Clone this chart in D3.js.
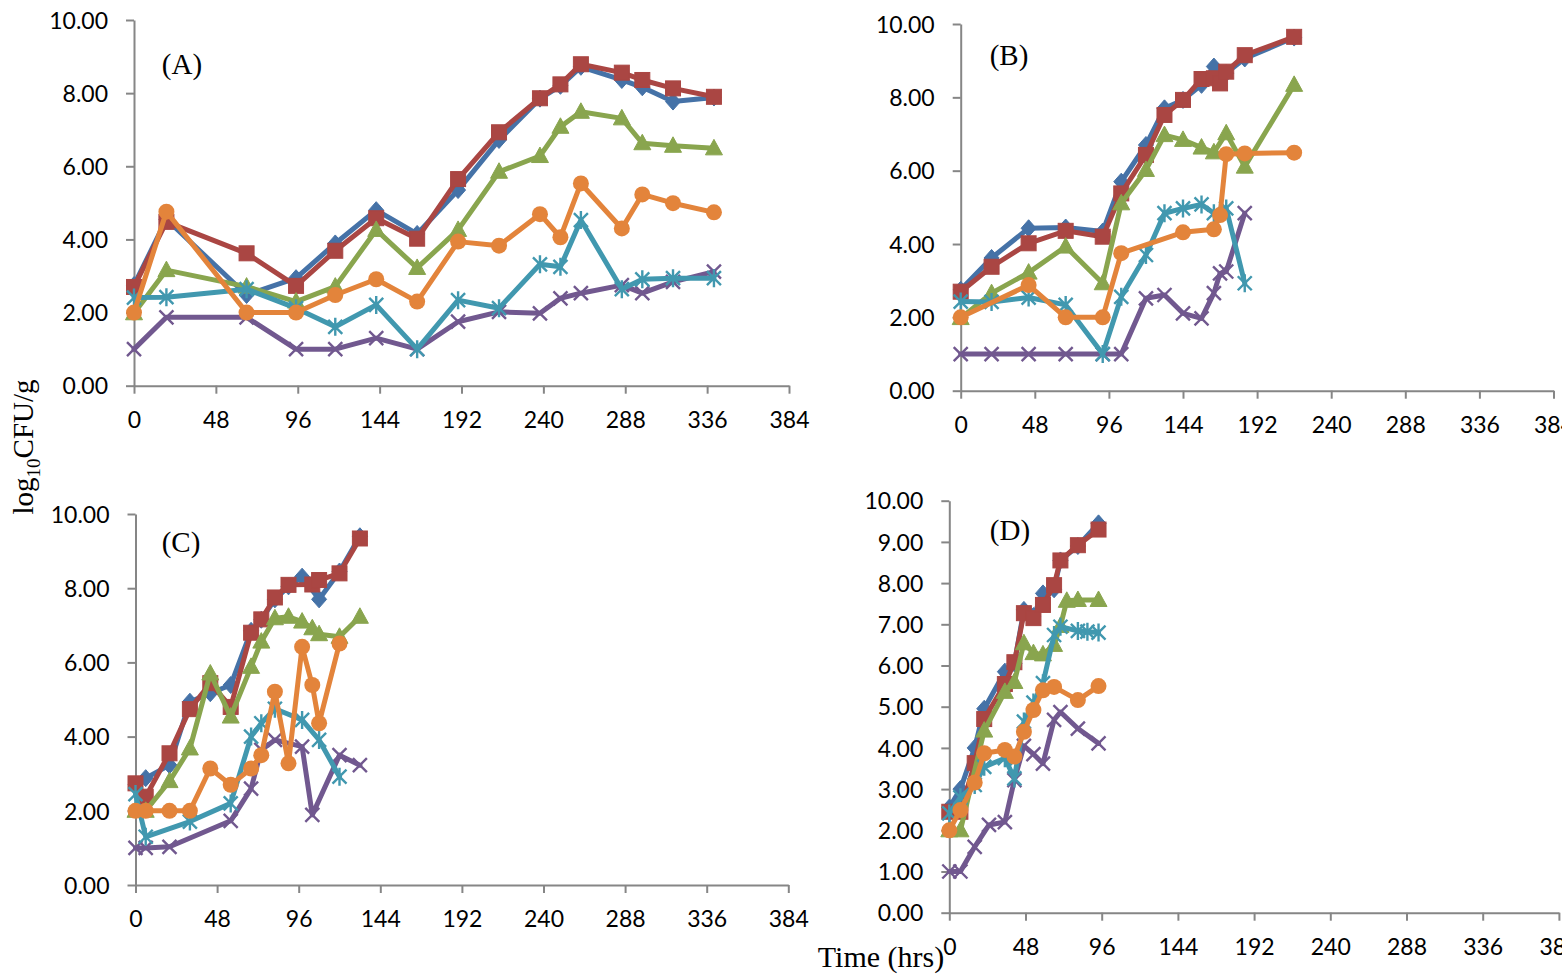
<!DOCTYPE html>
<html><head><meta charset="utf-8">
<script src="https://cdn.jsdelivr.net/npm/d3@7"></script>
<style>
html,body{margin:0;padding:0;background:#fff;overflow:hidden;}
svg{display:block;}
</style></head><body>
<svg id="chart" width="1562" height="974"></svg>
<script>
// ---------- DATA ----------
const hourTicks = [0, 48, 96, 144, 192, 240, 288, 336, 384];
const yTicksABC = [0, 2, 4, 6, 8, 10];
const yTicksD = [0, 1, 2, 3, 4, 5, 6, 7, 8, 9, 10];
const panelLabels = ["(A)", "(B)", "(C)", "(D)"];
const seriesColors = ["#4572A7", "#AA4643", "#89A54E", "#71588F", "#4198AF", "#E3843B"];
const seriesMarkers = ["diamond", "square", "triangle", "x", "asterisk", "circle"];

// Panel A
const timesA = [0, 19, 66, 95, 118, 142, 166, 190, 214, 238, 250, 262, 286, 298, 316, 340];
const blueA   = [2.75, 4.55, 2.48, 2.94, 3.89, 4.8, 4.15, 5.35, 6.72, 7.85, 8.2, 8.72, 8.36, 8.16, 7.77, 7.88];
const redA    = [2.7, 4.48, 3.62, 2.73, 3.69, 4.58, 4.02, 5.65, 6.93, 7.86, 8.24, 8.79, 8.56, 8.36, 8.13, 7.9];
const greenA  = [1.98, 3.16, 2.71, 2.3, 2.71, 4.26, 3.22, 4.26, 5.85, 6.28, 7.08, 7.49, 7.31, 6.63, 6.56, 6.49];
const purpleA = [1.0, 1.87, 1.87, 1.0, 1.0, 1.3, 1.0, 1.75, 2.02, 1.98, 2.39, 2.53, 2.75, 2.53, 2.84, 3.12];
const tealA   = [2.41, 2.42, 2.64, 2.12, 1.61, 2.21, 1.0, 2.34, 2.12, 3.32, 3.25, 4.53, 2.64, 2.91, 2.94, 2.94];
const orangeA = [2.0, 4.76, 2.0, 2.0, 2.48, 2.91, 2.3, 3.94, 3.83, 4.69, 4.06, 5.53, 4.3, 5.23, 4.99, 4.74];

// Panel B
const timesB = [0, 20, 44, 68, 92, 104, 120, 132, 144, 156, 164, 168, 172, 184, 216];
const blueB   = [2.75, 3.62, 4.43, 4.45, 4.34, 5.7, 6.7, 7.7, 7.93, 8.34, 8.84, null, 8.66, 9.06, 9.63];
const redB    = [2.7, 3.38, 4.02, 4.36, 4.2, 5.38, 6.43, 7.52, 7.93, 8.5, 8.52, 8.38, 8.7, 9.15, 9.65];
const greenB  = [1.98, 2.66, 3.22, 3.93, 2.93, 5.11, 6.02, 6.97, 6.84, 6.63, 6.5, null, 7.02, 6.11, 8.34];
const purpleB = [1, 1, 1, 1, 1, 1, 2.52, 2.61, 2.11, 1.97, 2.66, 3.2, 3.25, 4.84, null];
const tealB   = [2.43, 2.42, 2.54, 2.34, 1.0, 2.56, 3.7, 4.84, 4.97, 5.08, 4.84, null, 4.97, 2.93, null];
const orangeB = [2.0, null, 2.88, 2.0, 2.0, 3.75, null, null, 4.32, null, 4.4, 4.79, 6.45, 6.47, 6.49];

// Panel C
const timesC = [0, 6, 20, 32, 44, 56, 68, 74, 82, 90, 98, 104, 108, 120, 132];
const blueC   = [2.7, 2.88, 3.23, 4.94, 5.17, 5.39, 6.85, 7.15, 7.7, 8.05, 8.31, null, 7.7, 8.45, 9.4];
const redC    = [2.74, 2.38, 3.55, 4.74, 5.44, 4.8, 6.8, 7.16, 7.75, 8.09, null, 8.1, 8.22, 8.4, 9.34];
const greenC  = [2.0, 2.0, 2.8, 3.68, 5.7, 4.54, 5.88, 6.56, 7.19, 7.23, 7.1, 6.92, 6.76, 6.69, 7.23];
const purpleC = [1.0, 1.0, 1.03, null, null, 1.73, 2.6, 3.64, 3.91, null, 3.73, 1.89, null, 3.5, 3.23];
const tealC   = [2.45, 1.3, null, 1.71, null, 2.2, 4.0, 4.36, 4.75, null, 4.45, null, 3.91, 2.92, null];
const orangeC = [2.0, 2.0, 2.0, 2.0, 3.14, 2.7, 3.14, 3.5, 5.21, 3.28, 6.42, 5.39, 4.36, 6.51, null];

// Panel D
const timesD = [0, 7, 16, 22, 25, 35, 41, 47, 53, 59, 66, 70, 74, 81, 87, 94];
const blueD   = [2.55, 3.0, 4.0, 4.95, null, 5.85, 6.05, 7.35, 7.2, 7.75, 7.85, 8.55, null, 8.9, null, 9.45];
const redD    = [2.45, 2.45, 3.63, 4.7, null, 5.55, 6.08, 7.27, 7.15, 7.47, 7.95, 8.55, null, 8.92, null, 9.3];
const greenD  = [2.0, 2.0, null, 4.42, null, 5.36, 5.6, 6.54, 6.3, 6.27, 6.5, 6.96, 7.57, 7.59, null, 7.59];
const purpleD = [1.0, 1.0, 1.6, null, 2.13, 2.2, 3.22, 4.05, 3.85, 3.62, 4.68, 4.87, null, 4.47, null, 4.11];
const tealD   = [2.41, 2.8, 3.1, 3.54, null, 3.75, 3.26, 4.64, 5.1, 5.57, 6.74, 6.94, null, 6.84, 6.82, 6.8];
const orangeD = [2.0, 2.49, 3.16, 3.87, null, 3.95, 3.79, 4.39, 4.92, 5.4, 5.48, null, null, 5.16, null, 5.5];

// ---------- LAYOUT ----------
const panels = [
  {times: timesA, series: [blueA, redA, greenA, purpleA, tealA, orangeA], yTicks: yTicksABC,
   xr: [134, 789], yr: [385.7, 20], label: panelLabels[0], lx: 182, ly: 74},
  {times: timesB, series: [blueB, redB, greenB, purpleB, tealB, orangeB], yTicks: yTicksABC,
   xr: [960.7, 1553.5], yr: [390.7, 24], label: panelLabels[1], lx: 1009, ly: 65},
  {times: timesC, series: [blueC, redC, greenC, purpleC, tealC, orangeC], yTicks: yTicksABC,
   xr: [135.5, 788.3], yr: [885, 514], label: panelLabels[2], lx: 181, ly: 552},
  {times: timesD, series: [blueD, redD, greenD, purpleD, tealD, orangeD], yTicks: yTicksD,
   xr: [949.3, 1558.9], yr: [912.7, 500.7], label: panelLabels[3], lx: 1010, ly: 540}
];

const svg = d3.select("#chart");
const axisColor = "#868686";
const tickFont = "Lato, 'Open Sans', sans-serif";
const serifFont = "'Liberation Serif', 'DejaVu Serif', serif";

function drawMarker(g, type, cx, cy, color) {
  const s = 7.5;
  if (type === "diamond") {
    g.append("path").attr("d", `M${cx},${cy - 8.5}L${cx + 7.5},${cy}L${cx},${cy + 8.5}L${cx - 7.5},${cy}Z`)
      .attr("fill", color).attr("stroke", color).attr("stroke-width", 1);
  } else if (type === "square") {
    g.append("rect").attr("x", cx - s).attr("y", cy - s).attr("width", 2 * s).attr("height", 2 * s)
      .attr("fill", color).attr("stroke", color).attr("stroke-width", 1);
  } else if (type === "triangle") {
    g.append("path").attr("d", `M${cx},${cy - 9}L${cx + 8.5},${cy + 6.5}L${cx - 8.5},${cy + 6.5}Z`)
      .attr("fill", color).attr("stroke", color).attr("stroke-width", 1);
  } else if (type === "circle") {
    g.append("circle").attr("cx", cx).attr("cy", cy).attr("r", 8).attr("fill", color);
  } else if (type === "x" || type === "asterisk") {
    const d = 7;
    let p = `M${cx - d},${cy - d}L${cx + d},${cy + d}M${cx - d},${cy + d}L${cx + d},${cy - d}`;
    if (type === "asterisk") p += `M${cx},${cy - 9}L${cx},${cy + 9}`;
    g.append("path").attr("d", p).attr("fill", "none").attr("stroke", color).attr("stroke-width", 2.4);
  }
}

panels.forEach(p => {
  const x = d3.scaleLinear().domain([0, 384]).range(p.xr);
  const y = d3.scaleLinear().domain([0, 10]).range(p.yr);
  const g = svg.append("g");

  const ya = g.append("g").attr("transform", `translate(${p.xr[0]},0)`)
    .call(d3.axisLeft(y).tickValues(p.yTicks).tickFormat(d3.format(".2f")).tickSize(8).tickSizeOuter(0));
  const xa = g.append("g").attr("transform", `translate(0,${p.yr[0]})`)
    .call(d3.axisBottom(x).tickValues(hourTicks).tickFormat(d3.format("d")).tickSize(8).tickSizeOuter(0));

  [ya, xa].forEach(a => {
    a.select(".domain").attr("stroke", axisColor).attr("stroke-width", 2);
    a.selectAll(".tick line").attr("stroke", axisColor).attr("stroke-width", 2);
    a.selectAll(".tick text").attr("fill", "#000").style("font-family", tickFont).style("font-size", "23px");
  });
  ya.selectAll(".tick text").attr("x", -26).attr("dy", "0.36em");
  xa.selectAll(".tick text").attr("y", 42).attr("dy", 0);

  p.series.forEach((vals, si) => {
    const pts = p.times.map((t, i) => ({t: t, v: vals[i]})).filter(d => d.v !== null);
    const color = seriesColors[si];
    const sg = g.append("g");
    sg.append("path").datum(pts)
      .attr("d", d3.line().x(d => x(d.t)).y(d => y(d.v)))
      .attr("fill", "none").attr("stroke", color).attr("stroke-width", 5)
      .attr("stroke-linejoin", "round").attr("stroke-linecap", "round");
    pts.forEach(d => drawMarker(sg, seriesMarkers[si], x(d.t), y(d.v), color));
  });

  g.append("text").attr("x", p.lx).attr("y", p.ly).attr("text-anchor", "middle")
    .style("font-family", serifFont).style("font-size", "29px").attr("fill", "#000").text(p.label);
});

const yt = svg.append("text").attr("transform", "translate(33,447) rotate(-90)")
  .attr("text-anchor", "middle").style("font-family", serifFont).style("font-size", "29px").attr("fill", "#000");
yt.append("tspan").text("log");
yt.append("tspan").attr("dy", 7).style("font-size", "19px").text("10");
yt.append("tspan").attr("dy", -7).text("CFU/g");

svg.append("text").attr("x", 881).attr("y", 967).attr("text-anchor", "middle")
  .style("font-family", serifFont).style("font-size", "30px").attr("fill", "#000").text("Time (hrs)");
</script>
</body></html>
